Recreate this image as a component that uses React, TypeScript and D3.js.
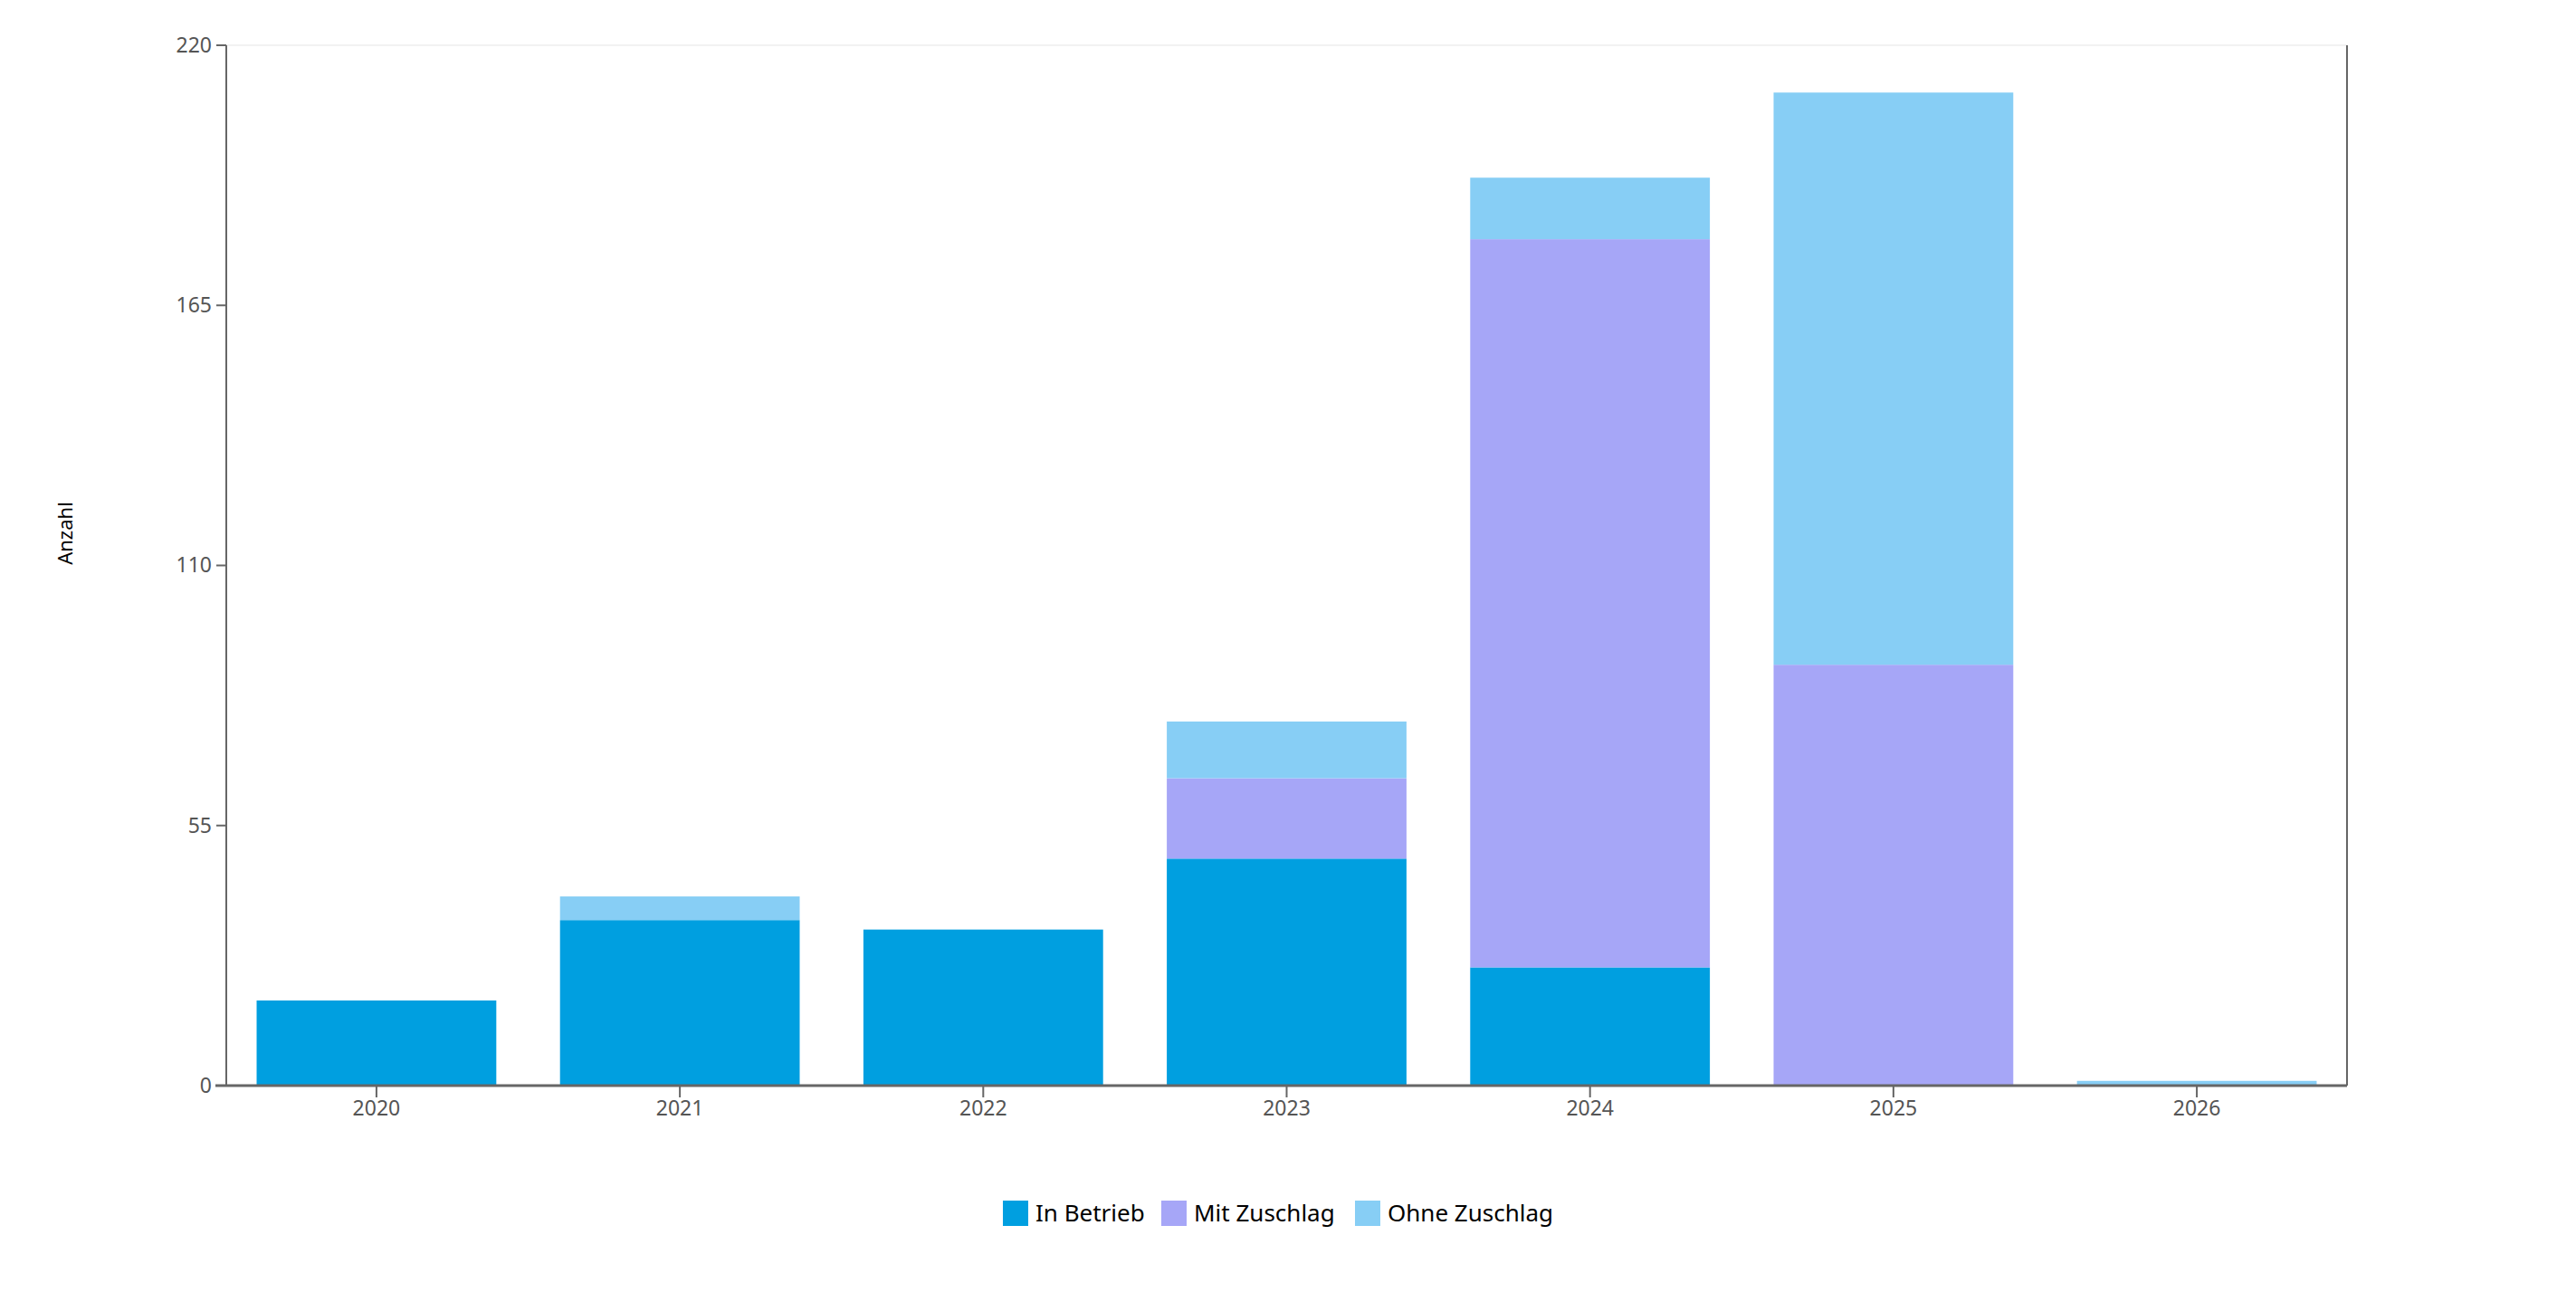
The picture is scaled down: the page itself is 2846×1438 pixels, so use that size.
import * as d3 from "d3";

const WIDTH = 2846;
const HEIGHT = 1438;
const MARGIN = { top: 50, right: 253, bottom: 239, left: 250 };
const INNER_W = WIDTH - MARGIN.left - MARGIN.right;
const INNER_H = HEIGHT - MARGIN.top - MARGIN.bottom;

const YEARS = ["2020", "2021", "2022", "2023", "2024", "2025", "2026"];
const IN_BETRIEB = [18, 35, 33, 48, 25, 0, 0];
const MIT_ZUSCHLAG = [0, 0, 0, 17, 154, 89, 0];
const OHNE_ZUSCHLAG = [0, 5, 0, 12, 13, 121, 1];
const Y_TICKS = [0, 55, 110, 165, 220];

const SERIES = [
  { key: "In Betrieb", values: IN_BETRIEB, color: "#009fe0" },
  { key: "Mit Zuschlag", values: MIT_ZUSCHLAG, color: "#a6a6f7" },
  { key: "Ohne Zuschlag", values: OHNE_ZUSCHLAG, color: "#87cef5" },
];

const FONT = "'Segoe UI', 'Noto Sans', 'Open Sans', sans-serif";
const AXIS = "#666666";

type Row = { year: string } & Record<string, number | string>;

export default function App() {
  const rows: Row[] = YEARS.map((year, i) => {
    const r: Row = { year };
    SERIES.forEach((s) => (r[s.key] = s.values[i]));
    return r;
  });
  const stack = d3
    .stack<Row>()
    .keys(SERIES.map((s) => s.key))
    .value((d, k) => d[k] as number)(rows);

  const x = d3.scaleBand().domain(YEARS).range([0, INNER_W]).paddingInner(0.21).paddingOuter(0.1);
  const y = d3.scaleLinear().domain([0, 220]).range([INNER_H, 0]);

  // legend layout: swatch + label, centred under the plot
  const legendItems = [
    { ...SERIES[0], offset: 0 },
    { ...SERIES[1], offset: 175 },
    { ...SERIES[2], offset: 389 },
  ];
  const legendW = 609;
  const legendX = MARGIN.left + INNER_W / 2 - legendW / 2 - 9;

  return (
    <svg
      width={WIDTH}
      height={HEIGHT}
      style={{ position: "absolute", left: 0, top: 0, background: "#fff" }}
      fontFamily={FONT}
    >
      <g transform={`translate(${MARGIN.left},${MARGIN.top})`}>
        <line x1={0} x2={INNER_W} y1={y(220)} y2={y(220)} stroke="#f2f2f2" strokeWidth={2} />
        {stack.map((layer, li) => (
          <g key={layer.key} fill={SERIES[li].color}>
            {layer.map((d, i) =>
              d[1] - d[0] > 0 ? (
                <rect
                  key={YEARS[i]}
                  x={x(YEARS[i])}
                  y={y(d[1])}
                  width={x.bandwidth()}
                  height={y(d[0]) - y(d[1])}
                />
              ) : null,
            )}
          </g>
        ))}

        {/* left axis */}
        <line x1={0} x2={0} y1={0} y2={INNER_H} stroke={AXIS} strokeWidth={2} />
        {Y_TICKS.map((t) => (
          <g key={t} transform={`translate(0,${y(t)})`}>
            <line x1={-11} x2={0} stroke={AXIS} strokeWidth={2} />
            <text x={-16} dy="0.34em" textAnchor="end" fontSize={23} fill="#555">
              {t}
            </text>
          </g>
        ))}

        {/* right border */}
        <line x1={INNER_W} x2={INNER_W} y1={0} y2={INNER_H} stroke={AXIS} strokeWidth={2} />

        {/* bottom axis */}
        <line x1={-12} x2={INNER_W} y1={INNER_H} y2={INNER_H} stroke={AXIS} strokeWidth={3} />
        {YEARS.map((yr) => (
          <g key={yr} transform={`translate(${(x(yr) ?? 0) + x.bandwidth() / 2},${INNER_H})`}>
            <line y1={0} y2={13} stroke={AXIS} strokeWidth={2} />
            <text y={33} textAnchor="middle" fontSize={23} fill="#555">
              {yr}
            </text>
          </g>
        ))}
      </g>

      <text
        transform={`translate(80,589) rotate(-90)`}
        textAnchor="middle"
        fontSize={22}
        fill="#000"
      >
        Anzahl
      </text>

      <g transform={`translate(${legendX},1326)`}>
        {legendItems.map((it) => (
          <g key={it.key} transform={`translate(${it.offset},0)`}>
            <rect width={28} height={28} fill={it.color} />
            <text x={36} y={14} dy="0.35em" fontSize={26} fill="#000">
              {it.key}
            </text>
          </g>
        ))}
      </g>
    </svg>
  );
}
